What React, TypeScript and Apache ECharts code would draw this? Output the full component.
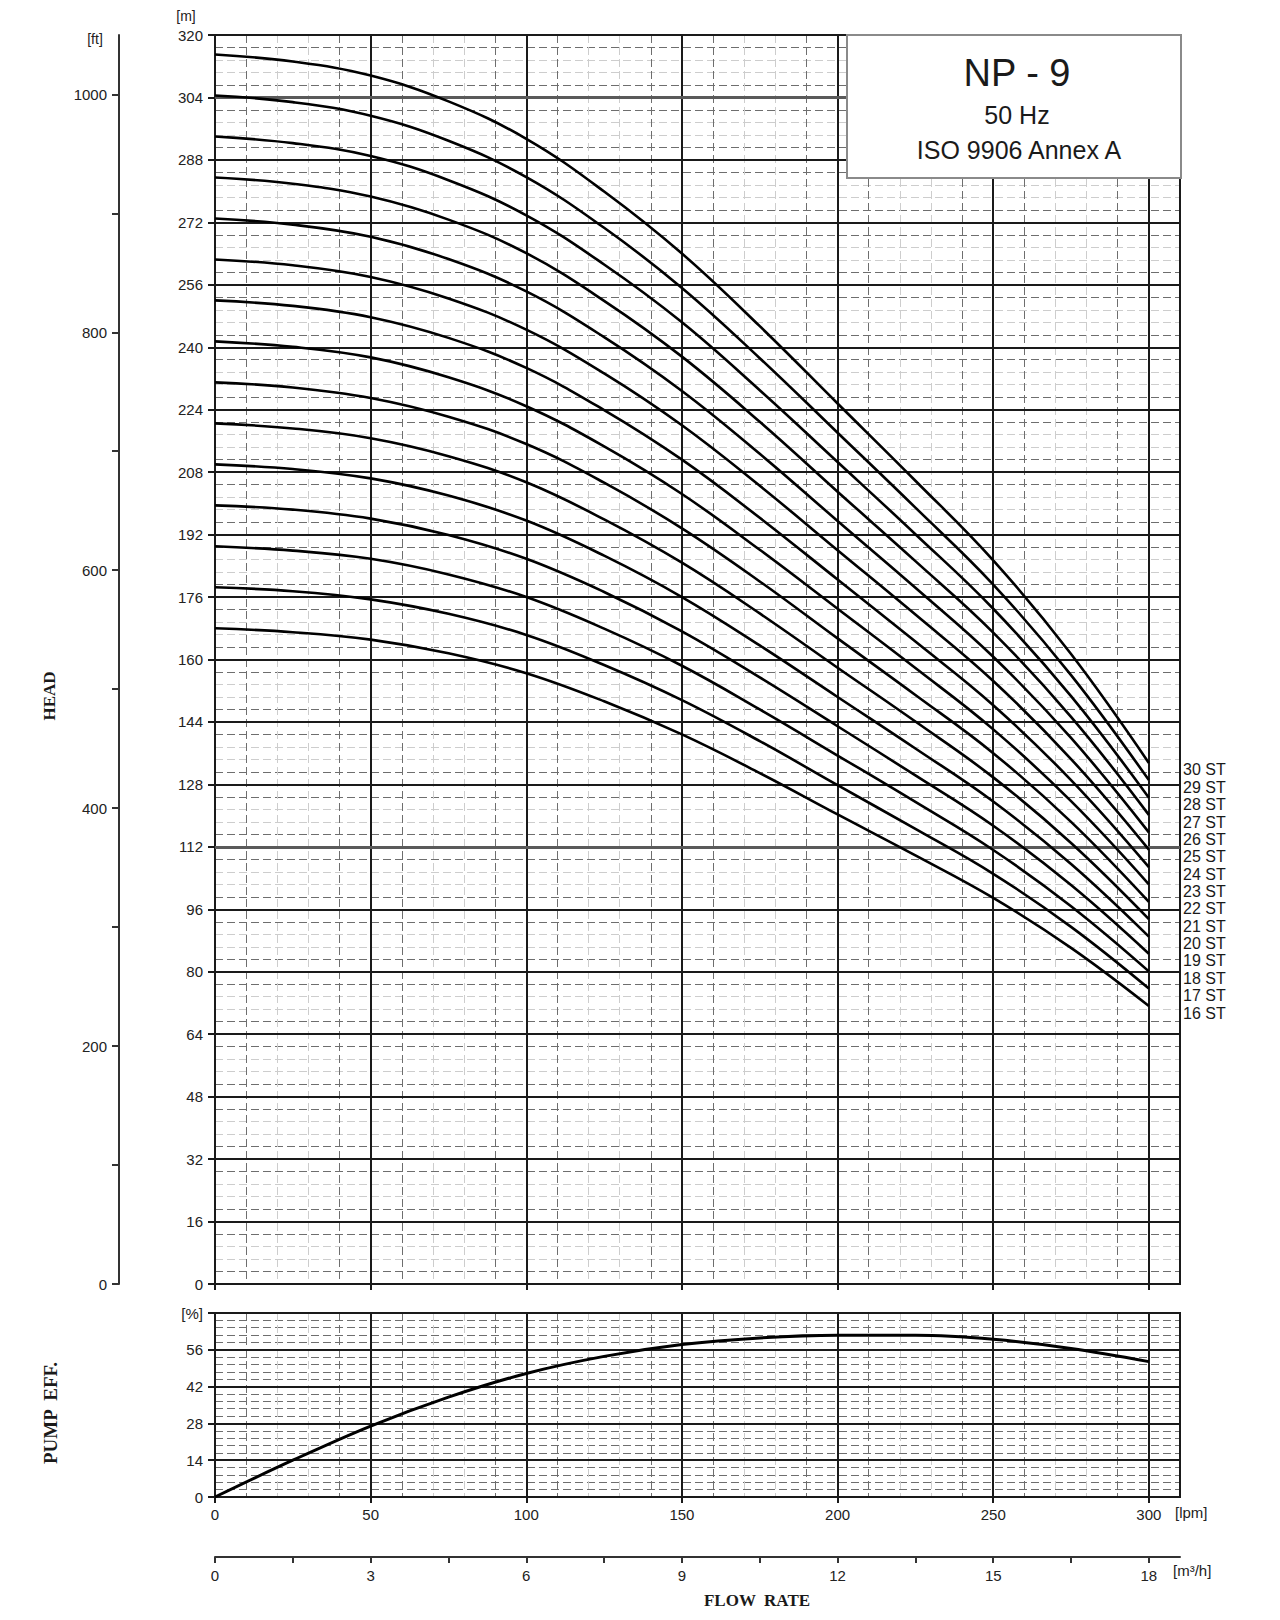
import React, { useEffect, useRef } from "react";
import * as echarts from "echarts";

// ---------- data ----------
const LPM = [0, 25, 50, 75, 100, 125, 150, 175, 200, 225, 250, 275, 300];
const STAGES = ["16 ST", "17 ST", "18 ST", "19 ST", "20 ST", "21 ST", "22 ST", "23 ST", "24 ST", "25 ST", "26 ST", "27 ST", "28 ST", "29 ST", "30 ST"];

const HEAD_16ST = [168.0, 167.0, 165.1, 161.6, 156.5, 149.3, 140.8, 130.9, 120.3, 109.8, 98.9, 86.1, 71.2];
const HEAD_17ST = [178.5, 177.5, 175.4, 171.7, 166.3, 158.6, 149.6, 139.1, 127.8, 116.6, 105.1, 91.5, 75.7];
const HEAD_18ST = [189.0, 187.9, 185.8, 181.8, 176.0, 167.9, 158.4, 147.2, 135.4, 123.5, 111.2, 96.8, 80.1];
const HEAD_19ST = [199.5, 198.4, 196.1, 191.9, 185.8, 177.3, 167.2, 155.4, 142.9, 130.3, 117.4, 102.2, 84.6];
const HEAD_20ST = [210.0, 208.8, 206.4, 202.0, 195.6, 186.6, 176.0, 163.6, 150.4, 137.2, 123.6, 107.6, 89.0];
const HEAD_21ST = [220.5, 219.2, 216.7, 212.1, 205.4, 195.9, 184.8, 171.8, 157.9, 144.1, 129.8, 113.0, 93.5];
const HEAD_22ST = [231.0, 229.7, 227.0, 222.2, 215.2, 205.3, 193.6, 180.0, 165.4, 150.9, 136.0, 118.4, 97.9];
const HEAD_23ST = [241.5, 240.1, 237.4, 232.3, 224.9, 214.6, 202.4, 188.1, 173.0, 157.8, 142.1, 123.7, 102.4];
const HEAD_24ST = [252.0, 250.6, 247.7, 242.4, 234.7, 223.9, 211.2, 196.3, 180.5, 164.6, 148.3, 129.1, 106.8];
const HEAD_25ST = [262.5, 261.0, 258.0, 252.5, 244.5, 233.3, 220.0, 204.5, 188.0, 171.5, 154.5, 134.5, 111.3];
const HEAD_26ST = [273.0, 271.4, 268.3, 262.6, 254.3, 242.6, 228.8, 212.7, 195.5, 178.4, 160.7, 139.9, 115.7];
const HEAD_27ST = [283.5, 281.9, 278.6, 272.7, 264.1, 251.9, 237.6, 220.9, 203.0, 185.2, 166.9, 145.3, 120.2];
const HEAD_28ST = [294.0, 292.3, 289.0, 282.8, 273.8, 261.2, 246.4, 229.0, 210.6, 192.1, 173.0, 150.6, 124.6];
const HEAD_29ST = [304.5, 302.8, 299.3, 292.9, 283.6, 270.6, 255.2, 237.2, 218.1, 198.9, 179.2, 156.0, 129.1];
const HEAD_30ST = [315.0, 313.2, 309.6, 303.0, 293.4, 279.9, 264.0, 245.4, 225.6, 205.8, 185.4, 161.4, 133.5];

const HEAD_CURVES = [HEAD_16ST, HEAD_17ST, HEAD_18ST, HEAD_19ST, HEAD_20ST, HEAD_21ST, HEAD_22ST, HEAD_23ST, HEAD_24ST, HEAD_25ST, HEAD_26ST, HEAD_27ST, HEAD_28ST, HEAD_29ST, HEAD_30ST];

const EFFICIENCY = [0, 14, 27, 38, 47, 53.5, 58, 60.5, 61.5, 61.5, 60, 56.5, 51.5];

const LPM_TICKS = [0, 50, 100, 150, 200, 250, 300];
const M3H_TICKS = [0, 1.5, 3, 4.5, 6, 7.5, 9, 10.5, 12, 13.5, 15, 16.5, 18];
const M3H_LABELS = [0, 3, 6, 9, 12, 15, 18];
const FT_TICKS = [0, 100, 200, 300, 400, 500, 600, 700, 800, 900, 1000];
const FT_LABELS = [0, 200, 400, 600, 800, 1000];
const HIGHLIGHT_HEADS = [304, 112];

const X_MAX = 310;
const HEAD_MAX = 320;
const EFF_MAX = 70;
const FT_PER_M = 1 / 0.3048;
const LPM_PER_M3H = 1000 / 60;

// ---------- styles ----------
const SANS = "Liberation Sans";
const SERIF = "Liberation Serif";
const MAJOR = "#1a1a1a";
const DARK = "#6e6e6e";
const LIGHT = "#cdcdcd";
const T = "transparent";
const DASH = [8, 4];

function splitX(gridIndex: number, interval: number, colors: any, width: number, type: any, z: number) {
  return {
    type: "value", gridIndex, min: 0, max: X_MAX, interval, position: "bottom", z,
    axisLine: { show: false }, axisTick: { show: false }, axisLabel: { show: false },
    splitLine: { show: true, lineStyle: { color: colors, width, type } },
  };
}
function splitY(gridIndex: number, max: number, interval: number, colors: any, width: number, type: any, z: number) {
  return {
    type: "value", gridIndex, min: 0, max, interval, position: "left", z,
    axisLine: { show: false }, axisTick: { show: false }, axisLabel: { show: false },
    splitLine: { show: true, lineStyle: { color: colors, width, type } },
  };
}

const labelStyle = { fontFamily: SANS, fontSize: 15, color: "#222" };
const plain = (v: number) => String(v);

export default function App() {
  const ref = useRef<HTMLDivElement>(null);
  useEffect(() => {
    if (!ref.current) return;
    const chart = echarts.init(ref.current, undefined, { renderer: "svg" });

    const headSeries = HEAD_CURVES.map((curve, i) => ({
      name: STAGES[i], type: "line", xAxisIndex: 0, yAxisIndex: 0,
      data: curve.map((h, j) => [LPM[j], h]),
      smooth: 0.4, symbol: "none", z: 5,
      lineStyle: { color: "#000", width: 2.6 },
    }));

    const stageLabels = STAGES.map((s, i) => ({
      type: "text", x: 1183, y: 1013 - i * 17.36, z: 50,
      style: { text: s, fontFamily: SANS, fontSize: 16, fill: "#1a1a1a", align: "left", verticalAlign: "middle" },
    }));

    const option: any = {
      animation: false,
      backgroundColor: "#fff",
      textStyle: { fontFamily: SANS },
      grid: [
        { left: 215, top: 35, width: 965, height: 1249, show: true, borderColor: MAJOR, borderWidth: 2, backgroundColor: "transparent" },
        { left: 215, top: 1313, width: 965, height: 184, show: true, borderColor: MAJOR, borderWidth: 2, backgroundColor: "transparent" },
      ],
      xAxis: [
        {
          type: "value", gridIndex: 0, min: 0, max: X_MAX, position: "bottom", z: 3,
          axisLine: { show: false },
          axisTick: { show: true, length: 6, customValues: LPM_TICKS, lineStyle: { color: MAJOR, width: 2 } },
          axisLabel: { show: false }, splitLine: { show: false },
        },
        splitX(0, 50, MAJOR, 2, "solid", 2),
        splitX(0, 10, [T, DARK, LIGHT, LIGHT, DARK], 1, DASH, 1),
        {
          type: "value", gridIndex: 1, min: 0, max: X_MAX, position: "bottom", z: 3,
          axisLine: { show: false },
          axisTick: { show: true, length: 6, customValues: LPM_TICKS, lineStyle: { color: MAJOR, width: 2 } },
          axisLabel: { show: true, customValues: LPM_TICKS, margin: 10, formatter: plain, ...labelStyle },
          splitLine: { show: false },
        },
        {
          type: "value", gridIndex: 1, min: 0, max: X_MAX / LPM_PER_M3H, position: "bottom", offset: 60, z: 3,
          axisLine: { show: true, onZero: false, lineStyle: { color: "#333", width: 2 } },
          axisTick: { show: true, length: 6, customValues: M3H_TICKS, lineStyle: { color: "#333", width: 2 } },
          axisLabel: { show: true, customValues: M3H_LABELS, margin: 11, formatter: plain, ...labelStyle },
          splitLine: { show: false },
        },
        splitX(1, 50, MAJOR, 2, "solid", 2),
        splitX(1, 10, [T, DARK, LIGHT, LIGHT, DARK], 1, DASH, 1),
      ],
      yAxis: [
        {
          type: "value", gridIndex: 0, min: 0, max: HEAD_MAX, interval: 16, position: "left", z: 3,
          axisLine: { show: true, lineStyle: { color: MAJOR, width: 2 } },
          axisTick: { show: true, length: 7, lineStyle: { color: MAJOR, width: 2 } },
          axisLabel: { show: true, margin: 12, formatter: plain, ...labelStyle },
          splitLine: { show: false },
        },
        {
          type: "value", gridIndex: 0, min: 0, max: HEAD_MAX * FT_PER_M, position: "left", offset: 96, z: 3,
          axisLine: { show: true, onZero: false, lineStyle: { color: "#333", width: 2 } },
          axisTick: { show: true, length: 7, customValues: FT_TICKS, lineStyle: { color: "#333", width: 2 } },
          axisLabel: { show: true, margin: 12, customValues: FT_LABELS, formatter: plain, ...labelStyle },
          splitLine: { show: false },
        },
        splitY(0, HEAD_MAX, 16, MAJOR, 2, "solid", 2),
        splitY(0, HEAD_MAX, 3.2, [T, DARK, LIGHT, LIGHT, DARK], 1, DASH, 1),
        {
          type: "value", gridIndex: 1, min: 0, max: EFF_MAX, interval: 14, position: "left", z: 3,
          axisLine: { show: true, lineStyle: { color: MAJOR, width: 2 } },
          axisTick: { show: true, length: 7, lineStyle: { color: MAJOR, width: 2 } },
          axisLabel: { show: true, margin: 12, ...labelStyle, formatter: (v: number) => (v === EFF_MAX ? "[%]" : String(v)) },
          splitLine: { show: false },
        },
        splitY(1, EFF_MAX, 14, MAJOR, 2, "solid", 2),
        splitY(1, EFF_MAX, 2.8, [T, DARK, DARK, DARK, DARK], 1, DASH, 1),
      ],
      series: [
        {
          name: "highlight", type: "line", xAxisIndex: 0, yAxisIndex: 0, data: [], z: 3, silent: true,
          markLine: {
            silent: true, symbol: ["none", "none"], label: { show: false },
            lineStyle: { color: "#5a5a5a", width: 3, type: "solid" },
            data: HIGHLIGHT_HEADS.map((h) => ({ yAxis: h })),
          },
        },
        ...headSeries,
        {
          name: "PUMP EFF.", type: "line", xAxisIndex: 3, yAxisIndex: 4,
          data: EFFICIENCY.map((e, j) => [LPM[j], e]),
          smooth: 0.35, symbol: "none", z: 5,
          lineStyle: { color: "#000", width: 3 },
        },
      ],
      graphic: [
        { type: "rect", shape: { x: 847, y: 35, width: 334, height: 143 }, style: { fill: "#fff", stroke: "#8a8a8a", lineWidth: 2 }, z: 40 },
        { type: "text", x: 1017, y: 73, z: 41, style: { text: "NP - 9", fontFamily: SANS, fontSize: 38, fill: "#1a1a1a", align: "center", verticalAlign: "middle" } },
        { type: "text", x: 1017, y: 115, z: 41, style: { text: "50 Hz", fontFamily: SANS, fontSize: 25, fill: "#1a1a1a", align: "center", verticalAlign: "middle" } },
        { type: "text", x: 1019, y: 150, z: 41, style: { text: "ISO 9906 Annex A", fontFamily: SANS, fontSize: 25, fill: "#1a1a1a", align: "center", verticalAlign: "middle" } },
        { type: "text", x: 186, y: 16, z: 41, style: { text: "[m]", fontFamily: SANS, fontSize: 14, fill: "#222", align: "center", verticalAlign: "middle" } },
        { type: "text", x: 95, y: 39, z: 41, style: { text: "[ft]", fontFamily: SANS, fontSize: 14, fill: "#222", align: "center", verticalAlign: "middle" } },
        { type: "text", x: 1175, y: 1512, z: 41, style: { text: "[lpm]", fontFamily: SANS, fontSize: 15, fill: "#222", align: "left", verticalAlign: "middle" } },
        { type: "text", x: 1173, y: 1570, z: 41, style: { text: "[m³/h]", fontFamily: SANS, fontSize: 15, fill: "#222", align: "left", verticalAlign: "middle" } },
        { type: "text", x: 757, y: 1600, z: 41, style: { text: "FLOW  RATE", fontFamily: SERIF, fontWeight: "bold", fontSize: 17, fill: "#1a1a1a", align: "center", verticalAlign: "middle" } },
        { type: "text", x: 49, y: 696, rotation: Math.PI / 2, z: 41, style: { text: "HEAD", fontFamily: SERIF, fontWeight: "bold", fontSize: 17, fill: "#1a1a1a", align: "center", verticalAlign: "middle" } },
        { type: "text", x: 50, y: 1413, rotation: Math.PI / 2, z: 41, style: { text: "PUMP  EFF.", fontFamily: SERIF, fontWeight: "bold", fontSize: 19, fill: "#1a1a1a", align: "center", verticalAlign: "middle" } },
        ...stageLabels,
      ],
    };

    chart.setOption(option);
    return () => chart.dispose();
  }, []);

  return <div ref={ref} style={{ position: "absolute", left: 0, top: 0, width: 1280, height: 1620, background: "#fff" }} />;
}
